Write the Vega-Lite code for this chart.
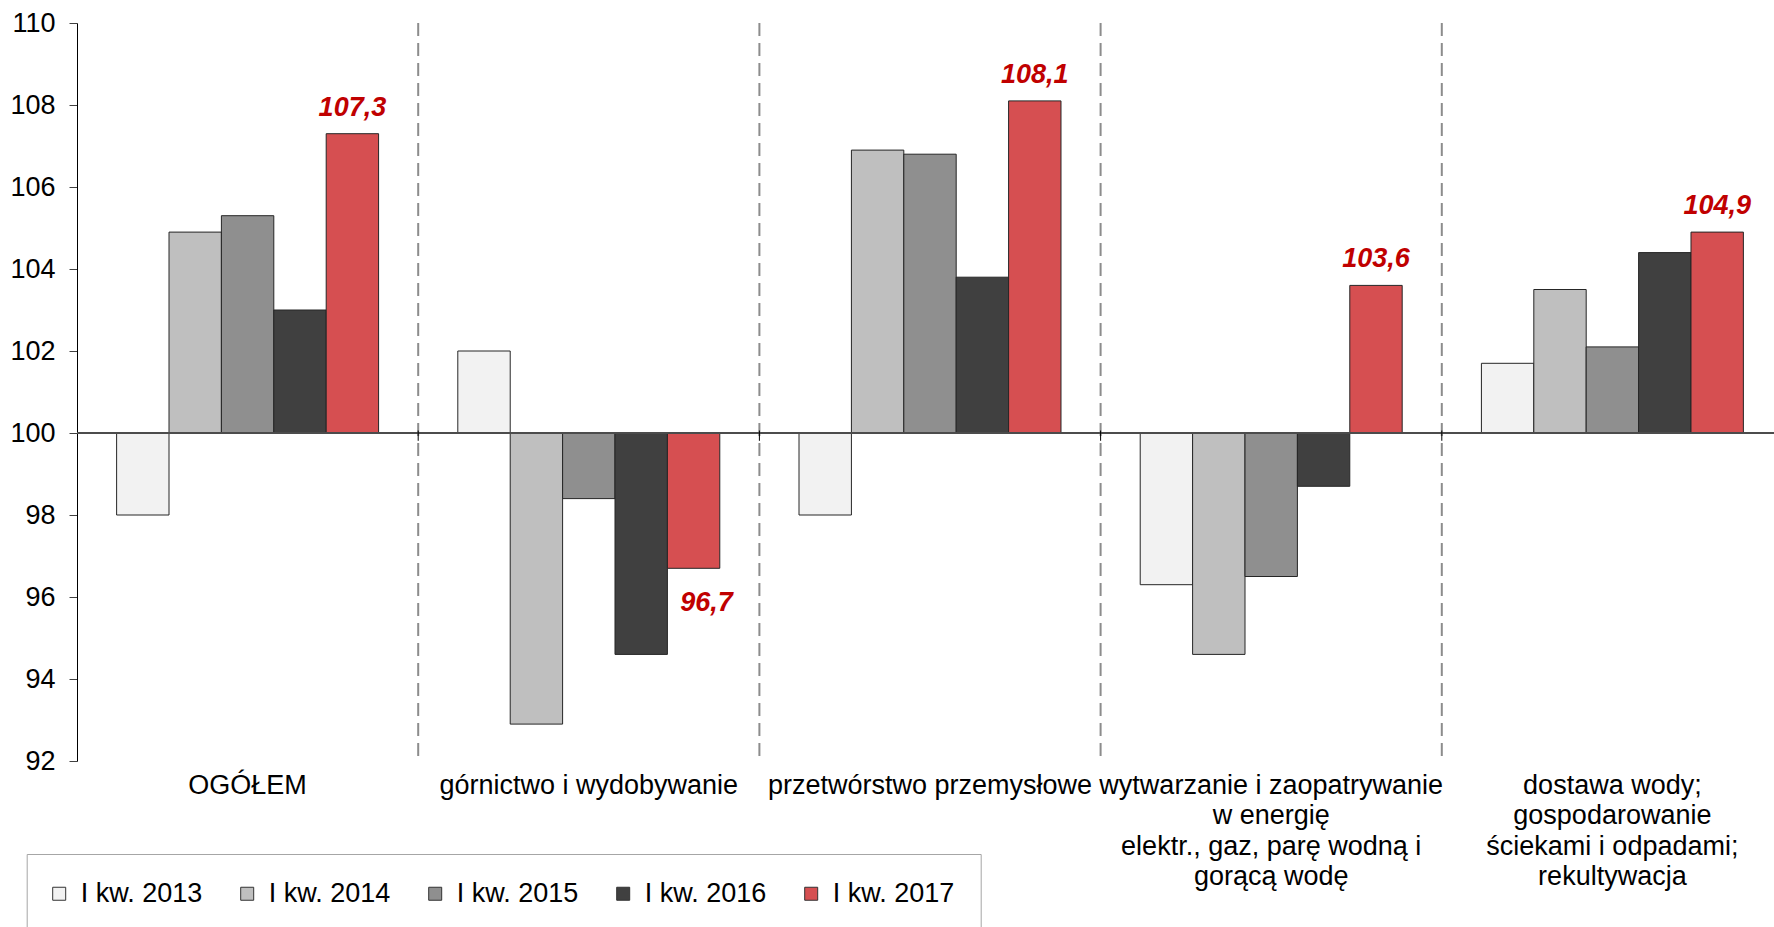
{
  "$schema": "https://vega.github.io/schema/vega-lite/v6.json",
  "width": 1697,
  "height": 738,
  "autosize": {"type": "none"},
  "padding": {"left": 77, "top": 23, "right": 0, "bottom": 166},
  "background": "white",
  "config": {
    "font": "Liberation Sans",
    "view": {"stroke": null},
    "locale": {"number": {"decimal": ",", "thousands": " ", "grouping": [3], "currency": ["", " zł"]}}
  },
  "data": {
    "values": [
      {"category": "OGÓŁEM", "year": "I kw. 2013", "value": 98.0},
      {"category": "OGÓŁEM", "year": "I kw. 2014", "value": 104.9},
      {"category": "OGÓŁEM", "year": "I kw. 2015", "value": 105.3},
      {"category": "OGÓŁEM", "year": "I kw. 2016", "value": 103.0},
      {"category": "OGÓŁEM", "year": "I kw. 2017", "value": 107.3},
      {"category": "górnictwo i wydobywanie", "year": "I kw. 2013", "value": 102.0},
      {"category": "górnictwo i wydobywanie", "year": "I kw. 2014", "value": 92.9},
      {"category": "górnictwo i wydobywanie", "year": "I kw. 2015", "value": 98.4},
      {"category": "górnictwo i wydobywanie", "year": "I kw. 2016", "value": 94.6},
      {"category": "górnictwo i wydobywanie", "year": "I kw. 2017", "value": 96.7},
      {"category": "przetwórstwo przemysłowe", "year": "I kw. 2013", "value": 98.0},
      {"category": "przetwórstwo przemysłowe", "year": "I kw. 2014", "value": 106.9},
      {"category": "przetwórstwo przemysłowe", "year": "I kw. 2015", "value": 106.8},
      {"category": "przetwórstwo przemysłowe", "year": "I kw. 2016", "value": 103.8},
      {"category": "przetwórstwo przemysłowe", "year": "I kw. 2017", "value": 108.1},
      {"category": "wytwarzanie i zaopatrywanie w energię elektr., gaz, parę wodną i gorącą wodę", "year": "I kw. 2013", "value": 96.3},
      {"category": "wytwarzanie i zaopatrywanie w energię elektr., gaz, parę wodną i gorącą wodę", "year": "I kw. 2014", "value": 94.6},
      {"category": "wytwarzanie i zaopatrywanie w energię elektr., gaz, parę wodną i gorącą wodę", "year": "I kw. 2015", "value": 96.5},
      {"category": "wytwarzanie i zaopatrywanie w energię elektr., gaz, parę wodną i gorącą wodę", "year": "I kw. 2016", "value": 98.7},
      {"category": "wytwarzanie i zaopatrywanie w energię elektr., gaz, parę wodną i gorącą wodę", "year": "I kw. 2017", "value": 103.6},
      {"category": "dostawa wody; gospodarowanie ściekami i odpadami; rekultywacja", "year": "I kw. 2013", "value": 101.7},
      {"category": "dostawa wody; gospodarowanie ściekami i odpadami; rekultywacja", "year": "I kw. 2014", "value": 103.5},
      {"category": "dostawa wody; gospodarowanie ściekami i odpadami; rekultywacja", "year": "I kw. 2015", "value": 102.1},
      {"category": "dostawa wody; gospodarowanie ściekami i odpadami; rekultywacja", "year": "I kw. 2016", "value": 104.4},
      {"category": "dostawa wody; gospodarowanie ściekami i odpadami; rekultywacja", "year": "I kw. 2017", "value": 104.9}
    ]
  },
  "layer": [
    {
      "mark": {"type": "rule", "color": "#8C8C8C", "strokeWidth": 2, "strokeDash": [13, 7]},
      "transform": [{"filter": "datum.year == 'I kw. 2013' && datum.category != 'OGÓŁEM'"}],
      "encoding": {
        "x": {"field": "category", "type": "nominal", "bandPosition": 0,
          "sort": ["OGÓŁEM", "górnictwo i wydobywanie", "przetwórstwo przemysłowe", "wytwarzanie i zaopatrywanie w energię elektr., gaz, parę wodną i gorącą wodę", "dostawa wody; gospodarowanie ściekami i odpadami; rekultywacja"]}
      }
    },
    {
      "mark": {"type": "bar", "stroke": "#262626", "strokeWidth": 1},
      "encoding": {
        "x": {
          "field": "category", "type": "nominal",
          "sort": ["OGÓŁEM", "górnictwo i wydobywanie", "przetwórstwo przemysłowe", "wytwarzanie i zaopatrywanie w energię elektr., gaz, parę wodną i gorącą wodę", "dostawa wody; gospodarowanie ściekami i odpadami; rekultywacja"],
          "scale": {"range": [0, 1706], "paddingInner": 0, "paddingOuter": 0},
          "axis": {
            "title": null, "orient": "bottom", "domain": false, "ticks": false, "tickSize": 0,
            "labelAngle": 0, "labelFontSize": 27, "labelColor": "#000000", "labelFont": "Liberation Sans",
            "labelAlign": "center",
            "labelBaseline": "alphabetic", "labelPadding": 32, "labelLineHeight": 30.6, "labelLimit": 400,
            "labelOverlap": false,
            "labelExpr": "datum.value == 'wytwarzanie i zaopatrywanie w energię elektr., gaz, parę wodną i gorącą wodę' ? ['wytwarzanie i zaopatrywanie', 'w energię', 'elektr., gaz, parę wodną i', 'gorącą wodę'] : datum.value == 'dostawa wody; gospodarowanie ściekami i odpadami; rekultywacja' ? ['dostawa wody;', 'gospodarowanie', 'ściekami i odpadami;', 'rekultywacja'] : datum.label"
          }
        },
        "xOffset": {"field": "year", "type": "nominal", "scale": {"paddingInner": 0, "paddingOuter": 0.756}},
        "y": {
          "field": "value", "type": "quantitative",
          "scale": {"domain": [92, 110], "nice": false, "zero": false},
          "axis": {
            "title": null, "values": [92, 94, 96, 98, 100, 102, 104, 106, 108, 110],
            "grid": false, "domainColor": "#000000", "domainWidth": 1,
            "tickColor": "#404040", "tickSize": 8, "tickWidth": 1,
            "labelFontSize": 27, "labelColor": "#000000", "labelPadding": 14, "labelFont": "Liberation Sans"
          }
        },
        "y2": {"datum": 100},
        "color": {
          "field": "year", "type": "nominal",
          "scale": {
            "domain": ["I kw. 2013", "I kw. 2014", "I kw. 2015", "I kw. 2016", "I kw. 2017"],
            "range": ["#F2F2F2", "#BFBFBF", "#8F8F8F", "#404040", "#D64F51"]
          },
          "legend": {
            "title": null, "orient": "none", "legendX": -50.3, "legendY": 831,
            "direction": "horizontal", "columns": 5, "padding": 26,
            "strokeColor": "#A6A6A6", "fillColor": "#FFFFFF",
            "symbolType": "square", "symbolSize": 169, "symbolStrokeColor": "#333333", "symbolStrokeWidth": 1,
            "symbolOffset": -7, "labelOffset": 8, "columnPadding": 36,
            "labelFontSize": 27, "labelFont": "Liberation Sans", "labelColor": "#000000", "labelLimit": 300
          }
        }
      }
    },
    {
      "mark": {"type": "rule", "color": "#4D4D4D", "strokeWidth": 1},
      "encoding": {"y": {"datum": 100}}
    },
    {
      "mark": {"type": "rule", "color": "#000000", "strokeWidth": 1},
      "transform": [{"filter": "datum.year == 'I kw. 2013' && datum.category != 'OGÓŁEM'"}],
      "encoding": {
        "x": {"field": "category", "type": "nominal", "bandPosition": 0,
          "sort": ["OGÓŁEM", "górnictwo i wydobywanie", "przetwórstwo przemysłowe", "wytwarzanie i zaopatrywanie w energię elektr., gaz, parę wodną i gorącą wodę", "dostawa wody; gospodarowanie ściekami i odpadami; rekultywacja"]},
        "y": {"datum": 100.06},
        "y2": {"datum": 99.81}
      }
    },
    {
      "mark": {"type": "text", "fontSize": 27, "fontWeight": "bold", "fontStyle": "italic", "color": "#C00000", "baseline": "alphabetic", "dy": -18, "font": "Liberation Sans"},
      "transform": [{"filter": "datum.year == 'I kw. 2017' && datum.value >= 100"}],
      "encoding": {
        "x": {"field": "category", "type": "nominal",
          "sort": ["OGÓŁEM", "górnictwo i wydobywanie", "przetwórstwo przemysłowe", "wytwarzanie i zaopatrywanie w energię elektr., gaz, parę wodną i gorącą wodę", "dostawa wody; gospodarowanie ściekami i odpadami; rekultywacja"]},
        "xOffset": {"field": "year", "type": "nominal"},
        "y": {"field": "value", "type": "quantitative"},
        "text": {"field": "value", "type": "quantitative", "format": ".1f"}
      }
    },
    {
      "mark": {"type": "text", "fontSize": 27, "fontWeight": "bold", "fontStyle": "italic", "color": "#C00000", "baseline": "alphabetic", "dy": 43, "dx": 13, "font": "Liberation Sans"},
      "transform": [{"filter": "datum.year == 'I kw. 2017' && datum.value < 100"}],
      "encoding": {
        "x": {"field": "category", "type": "nominal",
          "sort": ["OGÓŁEM", "górnictwo i wydobywanie", "przetwórstwo przemysłowe", "wytwarzanie i zaopatrywanie w energię elektr., gaz, parę wodną i gorącą wodę", "dostawa wody; gospodarowanie ściekami i odpadami; rekultywacja"]},
        "xOffset": {"field": "year", "type": "nominal"},
        "y": {"field": "value", "type": "quantitative"},
        "text": {"field": "value", "type": "quantitative", "format": ".1f"}
      }
    }
  ]
}
